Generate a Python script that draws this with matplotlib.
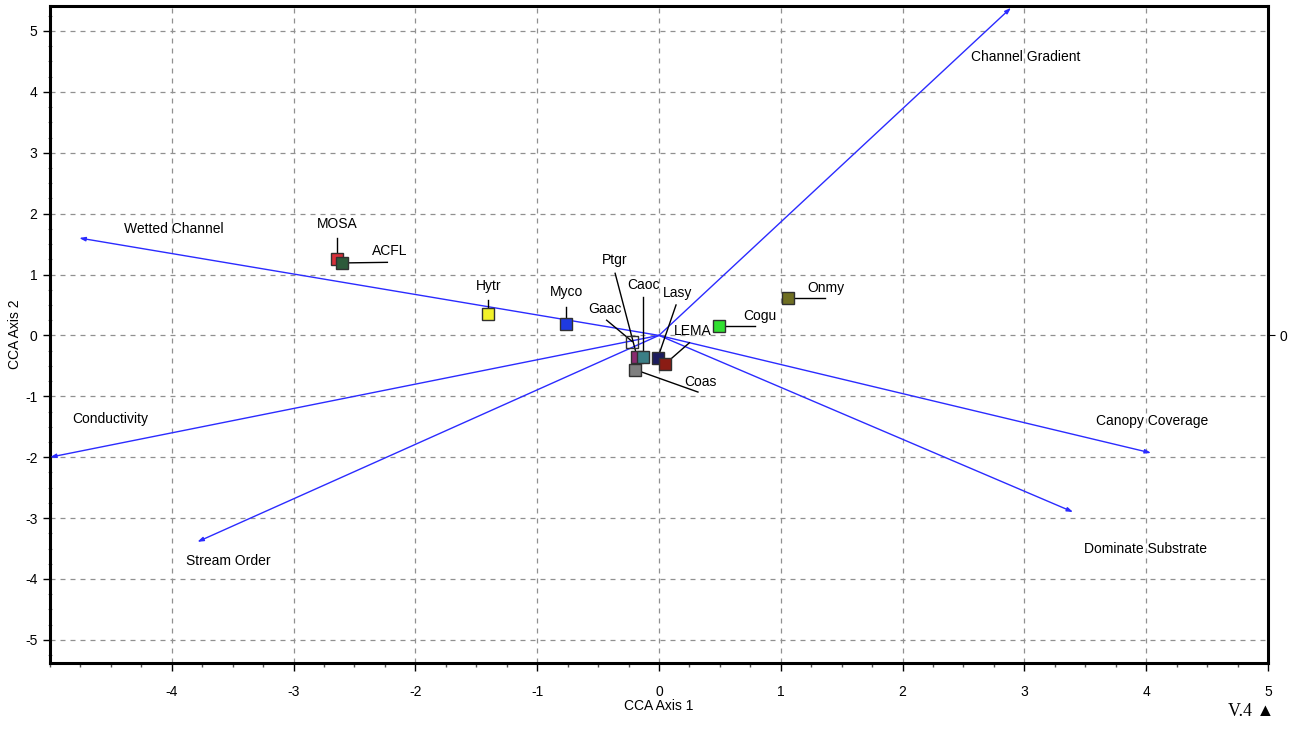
import matplotlib
matplotlib.use("Agg")
import matplotlib.pyplot as plt
import numpy as np

# ---- data ----
env_names = ["Channel Gradient", "Wetted Channel", "Conductivity", "Stream Order",
             "Canopy Coverage", "Dominate Substrate"]
env_x = [2.89, -4.76, -5.00, -3.79, 4.04, 3.40]
env_y = [5.38, 1.60, -2.00, -3.39, -1.93, -2.90]

sp_names = ["MOSA", "ACFL", "Hytr", "Myco", "Gaac", "Ptgr", "Caoc", "Lasy",
            "LEMA", "Coas", "Cogu", "Onmy"]
sp_x = [-2.64, -2.60, -1.40, -0.76, -0.22, -0.18, -0.13, -0.01, 0.05, -0.20, 0.49, 1.06]
sp_y = [1.26, 1.19, 0.35, 0.19, -0.10, -0.35, -0.35, -0.37, -0.47, -0.56, 0.15, 0.61]
sp_colors = ["#d8303a", "#2d5a3a", "#f2f22a", "#1f3ae0", "none", "#8a2a70",
             "#3b7f86", "#1b1b5e", "#8a1c14", "#7f7f7f", "#30e030", "#6f6f22"]

xticks = [-4, -3, -2, -1, 0, 1, 2, 3, 4, 5]
yticks = [-5, -4, -3, -2, -1, 0, 1, 2, 3, 4, 5]

# ---- layout (label positions, data units) ----
env_label_pos = [(2.56, 4.57), (-4.39, 1.75), (-4.82, -1.37), (-3.88, -3.70),
                 (3.59, -1.40), (3.49, -3.51)]
sp_label_pos = [(-2.64, 1.83), (-2.21, 1.39), (-1.40, 0.81), (-0.76, 0.71),
                (-0.44, 0.43), (-0.36, 1.24), (-0.13, 0.83), (0.15, 0.70),
                (0.28, 0.08), (0.34, -0.77), (0.83, 0.32), (1.37, 0.78)]
sp_leader_end = [(-2.64, 1.60), (-2.23, 1.20), (-1.40, 0.58), (-0.76, 0.47),
                 (-0.43, 0.25), (-0.36, 1.02), (-0.13, 0.63), (0.14, 0.50),
                 (0.25, -0.12), (0.32, -0.93), (0.79, 0.15), (1.36, 0.61)]

plt.rcParams['font.family'] = ['Liberation Sans', 'DejaVu Sans']
plt.rcParams['axes.unicode_minus'] = False

fig = plt.figure(figsize=(12.92, 7.29), dpi=100)
ax = fig.add_axes([0.0387, 0.0905, 0.9427, 0.9013])
ax.set_xlim(-5, 5)
ax.set_ylim(-5.38, 5.41)

ax.set_xticks(xticks)
ax.set_yticks(yticks)
ax.set_xticks(np.arange(-5, 5.01, 0.25), minor=True)
ax.set_yticks(np.arange(-5.25, 5.26, 0.25), minor=True)
ax.tick_params(axis='x', which='major', length=6, width=1, labelsize=10, pad=10)
ax.tick_params(axis='y', which='major', length=5, width=1, labelsize=10, pad=4)
ax.tick_params(axis='x', which='minor', length=3, width=1, color='#555555')
ax.tick_params(axis='y', which='minor', length=2.5, width=0.8, direction='inout', color='#888888')
ax.grid(True, which='major', linestyle=(0, (4, 4)), color='#909090', linewidth=0.9)
ax.set_axisbelow(True)
for s in ax.spines.values():
    s.set_linewidth(2.2)
    s.set_color('black')

ax.set_xlabel("CCA Axis 1", fontsize=10, labelpad=0)
ax.set_ylabel("CCA Axis 2", fontsize=10, labelpad=2)

# right-side axis with 0
ax2 = ax.twinx()
ax2.set_ylim(ax.get_ylim())
ax2.set_yticks([0])
ax2.tick_params(axis='y', length=5, labelsize=10)

# environmental vectors
for name, ex, ey, (lx, ly) in zip(env_names, env_x, env_y, env_label_pos):
    ax.annotate("", xy=(ex, ey), xytext=(0, 0),
                arrowprops=dict(arrowstyle="-|>,head_length=0.35,head_width=0.12",
                                color="#2b2bff", lw=1.0, shrinkA=0, shrinkB=0),
                zorder=3)
    ax.text(lx, ly, name, fontsize=10, ha='left', va='center', zorder=5)

# species leaders and labels
for name, px, py, (lx, ly), (qx, qy) in zip(sp_names, sp_x, sp_y, sp_label_pos, sp_leader_end):
    ax.plot([px, qx], [py, qy], color='black', lw=1.0, zorder=4)
    ax.text(lx, ly, name, fontsize=10, ha='center', va='center', zorder=6)

# species squares
for px, py, c in zip(sp_x, sp_y, sp_colors):
    ax.plot(px, py, marker='s', markersize=8.5, markerfacecolor=c,
            markeredgecolor='#303030', markeredgewidth=1.0, linestyle='none', zorder=7)

fig.text(0.986, 0.013, "V.4 \u25B2", fontsize=13, ha='right', va='bottom',
         family=['Liberation Serif', 'DejaVu Sans'])

fig.savefig("out.png", dpi=100)
